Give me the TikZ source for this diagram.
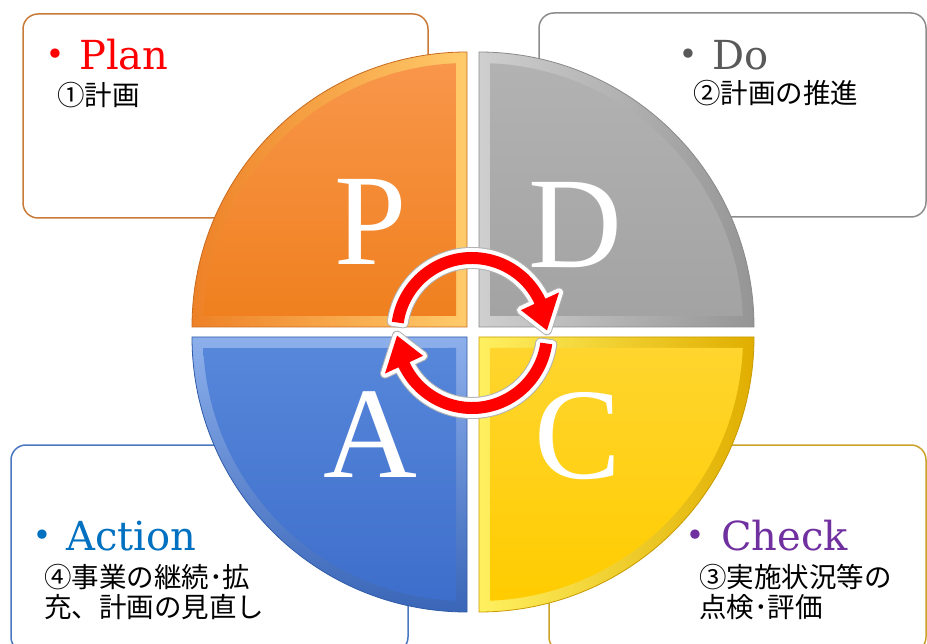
\documentclass[tikz,border=0pt]{standalone}
\usepackage{fontspec}
\setmainfont{Liberation Serif}
\newfontfamily\labfont{DejaVu Serif}
\newfontfamily\jpfont{Noto Sans CJK JP}
\usetikzlibrary{calc}
\definecolor{planred}{HTML}{FF0000}
\definecolor{dogray}{HTML}{595959}
\definecolor{actblue}{HTML}{0070C0}
\definecolor{chkpurple}{HTML}{7030A0}
\definecolor{bdorange}{HTML}{C97A38}
\definecolor{bdgray}{HTML}{8C8C8C}
\definecolor{bdblue}{HTML}{4A78C0}
\definecolor{bdgold}{HTML}{C9A227}
% quadrant colours
\definecolor{pbevA}{HTML}{EE8127}
\definecolor{pbevB}{HTML}{FFCB6B}
\definecolor{pline}{HTML}{C86A1E}
\definecolor{pfaceA}{HTML}{F8964A}
\definecolor{pfaceB}{HTML}{F0801F}
\definecolor{dbevA}{HTML}{CFCFCF}
\definecolor{dbevB}{HTML}{959595}
\definecolor{dline}{HTML}{8A8A8A}
\definecolor{dfaceA}{HTML}{B2B2B2}
\definecolor{dfaceB}{HTML}{A3A3A3}
\definecolor{abevA}{HTML}{8DB0EC}
\definecolor{abevB}{HTML}{3A66B8}
\definecolor{aline}{HTML}{2E5AA8}
\definecolor{afaceA}{HTML}{5787DA}
\definecolor{afaceB}{HTML}{3D6ECB}
\definecolor{cbevA}{HTML}{FFF060}
\definecolor{cbevB}{HTML}{E0AE00}
\definecolor{cline}{HTML}{C89A00}
\definecolor{cfaceA}{HTML}{FFD52E}
\definecolor{cfaceB}{HTML}{FFCC00}
\begin{document}
\begin{tikzpicture}[x=1pt,y=-1pt,
  card/.style={rounded corners=15pt, line width=1.5pt, fill=white},
  big/.style={text=white, inner sep=0pt, anchor=base, font=\fontsize{130}{130}\selectfont},
  dotlab/.style={inner sep=0pt, anchor=base, font=\labfont\fontsize{32}{32}\selectfont},
  headlab/.style={inner sep=0pt, anchor=base west, font=\labfont\fontsize{40}{40}\selectfont},
  jplab/.style={inner sep=0pt, anchor=west, align=left, font=\jpfont\fontsize{27.5}{30}\selectfont},
  arrowedge/.style={draw=black!30, line width=10pt, line join=round},
  arrowwhite/.style={draw=white, line width=8pt, line join=round},
  arrowred/.style={fill=red}]
\useasboundingbox (0,0) rectangle (927,644);
\clip (0,0) rectangle (927,644);

% cards
\draw[card, draw=bdorange] (23,14) rectangle (428,218);
\draw[card, draw=bdgray] (539,13) rectangle (926,217);
\draw[card, draw=bdblue] (11,445) rectangle (408,652);
\draw[card, draw=bdgold] (549,445) rectangle (926,652);

% P quadrant
\shade[left color=pbevA, right color=pbevB, draw=pline, line width=0.8pt]
  (467,327) -- (192,327) arc[start angle=180, end angle=270, radius=275] -- cycle;
\shade[top color=pfaceA, bottom color=pfaceB]
  (456,316) -- (203.23,316) arc[start angle=182.39, end angle=267.61, radius=264] -- cycle;
% D quadrant
\shade[left color=dbevA, right color=dbevB, draw=dline, line width=0.8pt]
  (479,327) -- (479,52) arc[start angle=270, end angle=360, radius=275] -- cycle;
\shade[top color=dfaceA, bottom color=dfaceB]
  (490,316) -- (490,63.23) arc[start angle=272.39, end angle=357.61, radius=264] -- cycle;
% A quadrant
\shade[top color=abevA, bottom color=abevB, draw=aline, line width=0.8pt]
  (467,337) -- (467,612) arc[start angle=90, end angle=180, radius=275] -- cycle;
\shade[top color=afaceA, bottom color=afaceB]
  (456,348) -- (456,600.77) arc[start angle=92.39, end angle=177.61, radius=264] -- cycle;
% C quadrant
\shade[left color=cbevA, right color=cbevB, draw=cline, line width=0.8pt]
  (479,337) -- (754,337) arc[start angle=0, end angle=90, radius=275] -- cycle;
\shade[top color=cfaceA, bottom color=cfaceB]
  (490,348) -- (742.77,348) arc[start angle=2.39, end angle=87.61, radius=264] -- cycle;

% big letters
\node[big] (bigP) at (371,265) {P};
\node[big] (bigD) at (575,268) {D};
\node[big] (bigA) at (370,477) {A};
\node[big] (bigC) at (578,478) {C};

% cycle arrows
\coordinate (O) at (472,333);
\foreach \sty in {arrowedge,arrowwhite,arrowred}{
  \path[\sty] ($(O)+(8:81)$) arc[start angle=8, end angle=155, radius=81]
    -- ($(O)+(155:96)$) -- ($(O)+(178:75)$) -- ($(O)+(155:54)$) -- ($(O)+(155:69)$)
    arc[start angle=155, end angle=8, radius=69] -- cycle;
}
\foreach \sty in {arrowedge,arrowwhite,arrowred}{
  \path[\sty] ($(O)+(188:81)$) arc[start angle=188, end angle=335, radius=81]
    -- ($(O)+(335:96)$) -- ($(O)+(358:75)$) -- ($(O)+(335:54)$) -- ($(O)+(335:69)$)
    arc[start angle=335, end angle=188, radius=69] -- cycle;
}

% labels
\node[dotlab, text=planred] (dotP) at (55,66) {•};
\node[headlab, text=planred] (hP) at (79,70) {Plan};
\node[jplab] (tP) at (57,95) {①計画};

\node[dotlab, text=dogray] (dotD) at (688,66) {•};
\node[headlab, text=dogray] (hD) at (712,70) {Do};
\node[jplab] (tD) at (693,93) {②計画の推進};

\node[dotlab, text=actblue] (dotA) at (42,546) {•};
\node[headlab, text=actblue] (hA) at (66,550) {Action};
\node[jplab] (tA) at (44,592) {④事業の継続･拡\\充、計画の見直し};

\node[dotlab, text=chkpurple] (dotC) at (695,546) {•};
\node[headlab, text=chkpurple] (hC) at (721,550) {Check};
\node[jplab] (tC) at (699,592) {③実施状況等の\\点検･評価};
\end{tikzpicture}
\end{document}
